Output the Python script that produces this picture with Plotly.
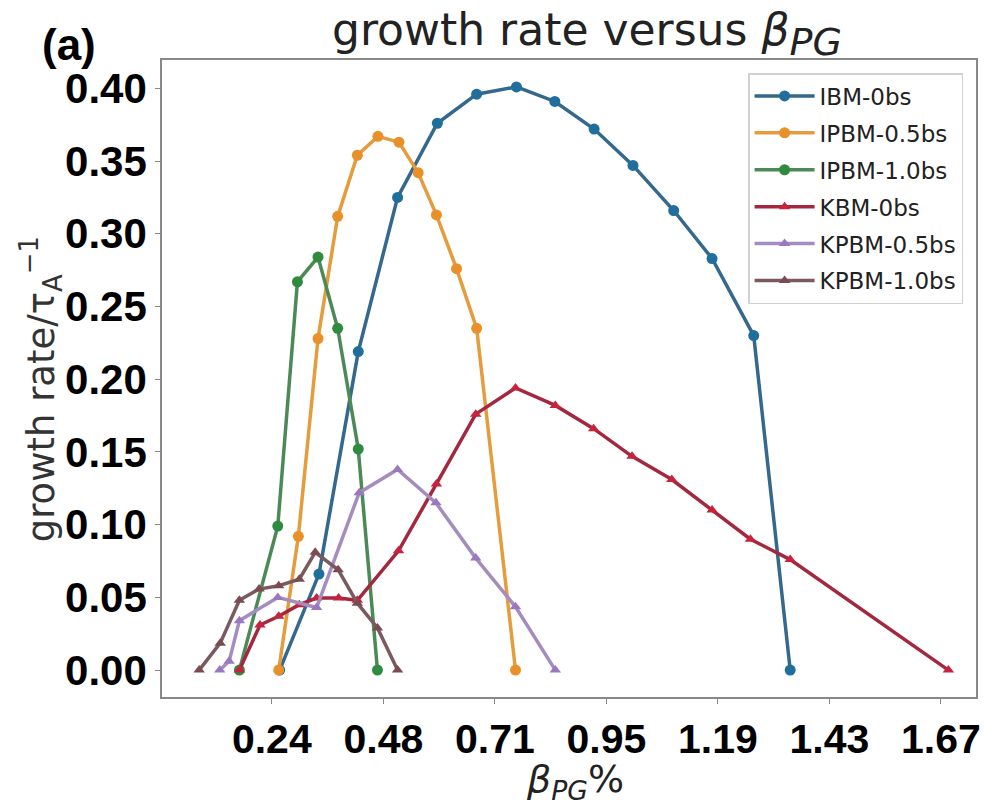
import plotly.graph_objects as go

# ---------------- data ----------------
ibm_x = [0.255, 0.339, 0.423, 0.507, 0.592, 0.676, 0.761, 0.843, 0.927, 1.010, 1.097, 1.179, 1.268, 1.346]
ibm_y = [0.0, 0.066, 0.219, 0.325, 0.376, 0.396, 0.401, 0.391, 0.372, 0.347, 0.316, 0.283, 0.230, 0.0]

ipbm05_x = [0.253, 0.295, 0.337, 0.379, 0.421, 0.465, 0.510, 0.551, 0.590, 0.633, 0.676, 0.759]
ipbm05_y = [0.0, 0.092, 0.228, 0.312, 0.354, 0.367, 0.363, 0.342, 0.313, 0.276, 0.235, 0.0]

ipbm10_x = [0.169, 0.251, 0.293, 0.337, 0.379, 0.423, 0.464]
ipbm10_y = [0.0, 0.099, 0.267, 0.284, 0.235, 0.152, 0.0]

kbm_x = [0.169, 0.213, 0.253, 0.297, 0.334, 0.381, 0.421, 0.509, 0.590, 0.674, 0.759,
         0.844, 0.926, 1.008, 1.093, 1.179, 1.261, 1.346, 1.684]
kbm_y = [0.0, 0.031, 0.037, 0.045, 0.0495, 0.0495, 0.048, 0.082, 0.128, 0.176, 0.194,
         0.182, 0.166, 0.147, 0.131, 0.110, 0.090, 0.076, 0.0]

kpbm05_x = [0.127, 0.147, 0.169, 0.251, 0.334, 0.425, 0.507, 0.589, 0.674, 0.759, 0.844]
kpbm05_y = [0.0, 0.006, 0.034, 0.050, 0.043, 0.122, 0.138, 0.115, 0.077, 0.0435, 0.0]

kpbm10_x = [0.083, 0.128, 0.169, 0.211, 0.253, 0.297, 0.331, 0.380, 0.421, 0.464, 0.507]
kpbm10_y = [0.0, 0.0185, 0.048, 0.0557, 0.058, 0.0625, 0.081, 0.069, 0.046, 0.029, 0.0]

series_names = ["IBM-0bs", "IPBM-0.5bs", "IPBM-1.0bs", "KBM-0bs", "KPBM-0.5bs", "KPBM-1.0bs"]

xtick_vals = [0.2383, 0.4766, 0.7149, 0.9532, 1.1915, 1.4298, 1.6681]
xtick_labels = ["0.24", "0.48", "0.71", "0.95", "1.19", "1.43", "1.67"]
ytick_vals = [0.0, 0.05, 0.10, 0.15, 0.20, 0.25, 0.30, 0.35, 0.40]

# ---------------- styling ----------------
line_colors = ["#34688c", "#e59c3c", "#4b8a57", "#a3283f", "#a58cbf", "#7b5a5f"]
marker_colors = ["#1f6e9c", "#e8912a", "#2e8b3f", "#c8223c", "#9a78c0", "#7a4b50"]
symbols = ["circle", "circle", "circle", "triangle-up", "triangle-up", "triangle-up"]
sizes = [11, 11, 11, 10, 10, 10]

xs = [ibm_x, ipbm05_x, ipbm10_x, kbm_x, kpbm05_x, kpbm10_x]
ys = [ibm_y, ipbm05_y, ipbm10_y, kbm_y, kpbm05_y, kpbm10_y]

fig = go.Figure()
for i, name in enumerate(series_names):
    fig.add_trace(go.Scatter(
        x=xs[i], y=ys[i], name=name, mode="lines+markers",
        legendgroup=name,
        line=dict(color=line_colors[i], width=3.5),
        marker=dict(color=marker_colors[i], symbol=symbols[i], size=sizes[i],
                    line=dict(width=0)),
    ))

W, H = 996, 805
L, R, T, B = 161.7, 976, 60, 697

def px(xp):
    return (xp - L) / (R - L)

def py(yp):
    return (B - yp) / (B - T)

fig.update_layout(
    width=W, height=H,
    margin=dict(l=L, r=W - R, t=T, b=H - B, pad=0, autoexpand=False),
    paper_bgcolor="white", plot_bgcolor="white",
    showlegend=True,
    legend=dict(
        x=px(748), y=py(73),
        xanchor="left", yanchor="top",
        bgcolor="rgba(255,255,255,0.9)", bordercolor="#d0d0d0", borderwidth=1.5,
        font=dict(family="DejaVu Sans", size=23, color="#222"),
        tracegroupgap=4, itemwidth=60,
    ),
    title=dict(
        text="growth rate versus <i>β</i><sub><span style='font-size:38px'><i>PG</i></span></sub>",
        font=dict(family="DejaVu Sans", size=44, color="#222"),
        x=332 / W, xanchor="left", xref="container",
        y=1 - 30 / H, yanchor="middle", yref="container",
        automargin=False,
    ),
    xaxis=dict(
        range=[0.0036, 1.743], automargin=False,
        tickmode="array", tickvals=xtick_vals, ticktext=xtick_labels,
        ticks="outside", ticklen=5, tickwidth=1.2, tickcolor="#888",
        showline=True, linecolor="#888", linewidth=1.5, mirror=True,
        showgrid=False, zeroline=False,
        tickfont=dict(family="Liberation Sans", size=41, color="black", weight="bold"),
    ),
    yaxis=dict(
        range=[-0.0185, 0.4195], automargin=False,
        tickmode="array", tickvals=ytick_vals, tickformat=".2f",
        ticks="outside", ticklen=5, tickwidth=1.2, tickcolor="#888",
        showline=True, linecolor="#888", linewidth=1.5, mirror=True,
        showgrid=False, zeroline=False,
        tickfont=dict(family="Liberation Sans", size=42, color="black", weight="bold"),
    ),
    annotations=[
        dict(
            text="<b>(a)</b>", xref="paper", yref="paper",
            x=px(69), y=py(44), xanchor="center", yanchor="middle",
            showarrow=False, font=dict(family="Liberation Sans", size=44, color="black"),
        ),
        dict(
            text="growth rate/τ<sub>A</sub><sup>−1</sup>", xref="paper", yref="paper",
            x=px(41), y=py(389), xanchor="center", yanchor="middle",
            textangle=-90, showarrow=False,
            font=dict(family="DejaVu Sans", size=37, color="#333"),
        ),
        dict(
            text="<i>β</i><sub><i>PG</i></sub>%", xref="paper", yref="paper",
            x=px(575), y=py(781), xanchor="center", yanchor="middle",
            showarrow=False, font=dict(family="DejaVu Sans", size=38, color="#222"),
        ),
    ],
)

fig.write_html("out.html")
